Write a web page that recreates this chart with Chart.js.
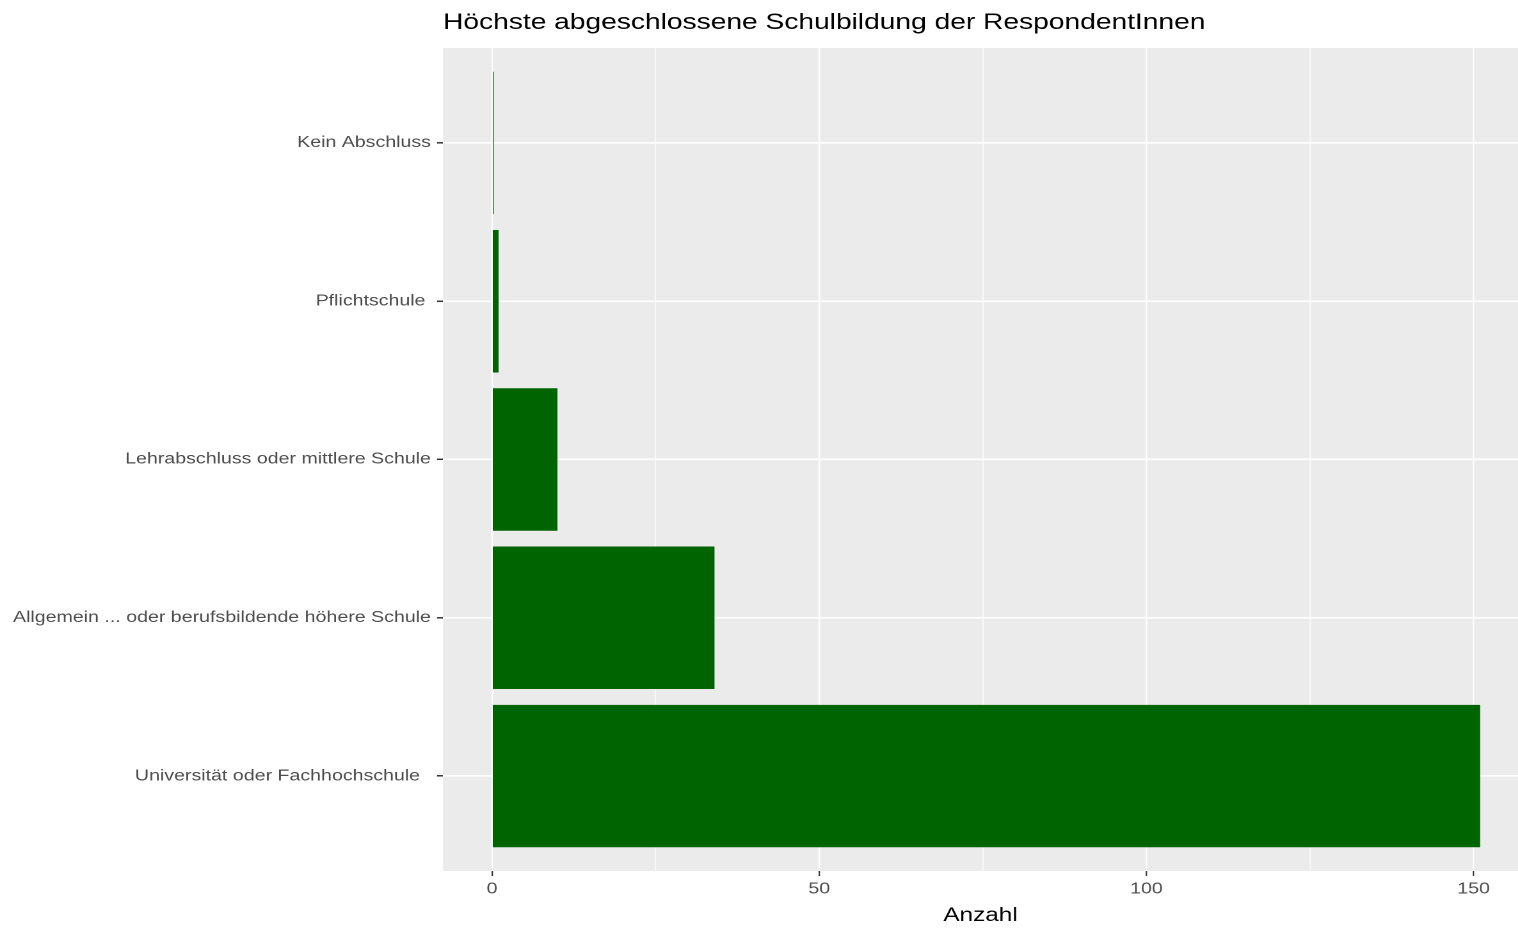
<!DOCTYPE html>
<html>
<head>
<meta charset="utf-8">
<script src="https://cdn.jsdelivr.net/npm/chart.js@4/dist/chart.umd.min.js"></script>
<style>
  html, body { margin: 0; padding: 0; background: #fff; overflow: hidden; }
  #wrap { position: absolute; left: 0; top: 0; transform-origin: 0 0; }
</style>
</head>
<body>
<div id="wrap"><canvas id="chart"></canvas></div>
<script>
// data
const categories = [
  "Kein Abschluss",
  "Pflichtschule ",
  "Lehrabschluss oder mittlere Schule",
  "Allgemein ... oder berufsbildende höhere Schule",
  "Universität oder Fachhochschule  "
];
const counts = [0.25, 1, 10, 34, 151];
const xTicks = [0, 25, 50, 75, 100, 125, 150];
const chartTitle = "Höchste abgeschlossene Schulbildung der RespondentInnen";
const xTitle = "Anzahl";

// the reference is stretched horizontally, so draw narrower and scale the wrapper
const S = 1.28;
const W = 1518 / S;
const H = 929;
const wrap = document.getElementById("wrap");
wrap.style.transform = `scaleX(${S})`;
const canvas = document.getElementById("chart");
canvas.width = Math.round(W);
canvas.height = H;

Chart.defaults.font.family = "'Liberation Sans', Arial, sans-serif";

const panelBg = {
  id: "panelBg",
  beforeDraw(chart) {
    const { ctx, chartArea: a } = chart;
    ctx.save();
    ctx.fillStyle = "#EBEBEB";
    ctx.fillRect(a.left, a.top, a.right - a.left, a.bottom - a.top);
    ctx.restore();
  },
  afterDraw(chart) {
    const { ctx, chartArea: a } = chart;
    ctx.save();
    ctx.fillStyle = "#000";
    ctx.font = "22px 'Liberation Sans', Arial, sans-serif";
    ctx.textAlign = "left";
    ctx.textBaseline = "alphabetic";
    ctx.fillText(chartTitle, a.left, 29);
    ctx.restore();
  }
};

new Chart(canvas, {
  type: "bar",
  data: {
    datasets: [{
      data: counts.map((v, i) => ({ x: v, y: i })),
      backgroundColor: "#006400",
      borderWidth: 0,
      barPercentage: 0.9,
      categoryPercentage: 1
    }]
  },
  options: {
    indexAxis: "y",
    responsive: false,
    devicePixelRatio: 2,
    animation: false,
    layout: { padding: { left: 0, right: 0, top: 48, bottom: 0 } },
    plugins: {
      legend: { display: false },
      tooltip: { enabled: false }
    },
    scales: {
      x: {
        type: "linear",
        min: -7.49,
        max: 156.8,
        afterBuildTicks: s => { s.ticks = xTicks.map(v => ({ value: v })); },
        afterFit: s => { s.height = 58; },
        border: { display: false },
        grid: {
          color: "#FFFFFF",
          lineWidth: c => (c.tick && c.tick.value % 50 === 0 ? 1.2 : 0.7),
          tickColor: c => (c.tick && c.tick.value % 50 === 0 ? "#333333" : "rgba(0,0,0,0)"),
          tickWidth: 1.1,
          tickLength: 5
        },
        ticks: {
          color: "#4D4D4D",
          font: { size: 15.3 },
          padding: 4,
          maxRotation: 0,
          autoSkip: false,
          callback: v => (v % 50 === 0 ? String(v) : "")
        },
        title: {
          display: true,
          text: xTitle,
          color: "#000",
          font: { size: 19 },
          padding: { top: 0, bottom: 2 }
        }
      },
      y: {
        type: "linear",
        reverse: true,
        offset: false,
        min: -0.6,
        max: 4.6,
        afterBuildTicks: s => { s.ticks = categories.map((c, i) => ({ value: i })); },
        afterFit: s => { s.width = 443 / S; },
        border: { display: false },
        grid: {
          offset: false,
          color: "#FFFFFF",
          lineWidth: 1.6,
          tickColor: "#333333",
          tickWidth: 1.5,
          tickLength: 4.7
        },
        ticks: {
          color: "#4D4D4D",
          font: { size: 15.3 },
          padding: 4.7,
          autoSkip: false,
          callback: v => categories[v]
        }
      }
    }
  },
  plugins: [panelBg]
});
</script>
</body>
</html>
